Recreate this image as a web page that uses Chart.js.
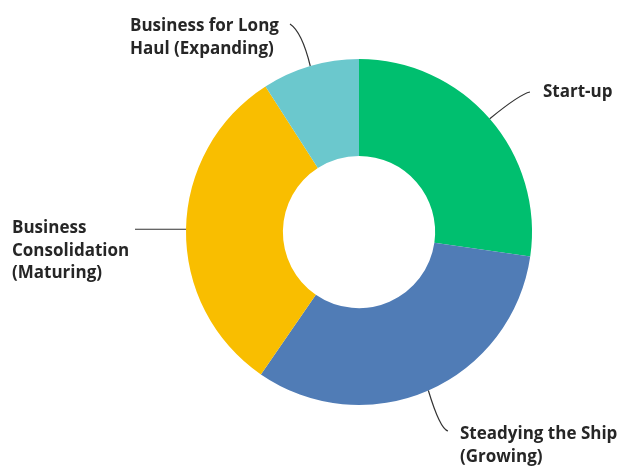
<!DOCTYPE html>
<html>
<head>
<meta charset="utf-8">
<script src="https://cdn.jsdelivr.net/npm/chart.js@4/dist/chart.umd.min.js"></script>
<style>
  html, body { margin: 0; padding: 0; background: #fff; }
  #wrap { width: 625px; height: 468px; position: relative; }
</style>
</head>
<body>
<div id="wrap"><canvas id="stageChart" width="625" height="468"></canvas></div>
<script>
// Business stage shares
const stages = [
    'Start-up',
    'Steadying the Ship (Growing)',
    'Business Consolidation (Maturing)',
    'Business for Long Haul (Expanding)'
];
const shares = [27, 32, 31, 9];
const stageColors = ['#00bf6f', '#507cb6', '#f9be00', '#6bc8cd'];

// Wrapped label lines, one entry per stage
const labelLines = [
    ['Start-up'],
    ['Steadying the Ship', '(Growing)'],
    ['Business', 'Consolidation', '(Maturing)'],
    ['Business for Long', 'Haul (Expanding)']
];

// Where each label sits and how its leader bends (elbow, end) relative to the text
const labelLayout = [
    { x: 543, y: 97, elbow: [-23, -3], end: [-13, -5] },
    { x: 460, y: 439, elbow: [-20, -10], end: [-12, -8] },
    { x: 12, y: 233, elbow: null, end: [123, -6] },
    { x: 130, y: 31, elbow: [172, 1], end: [160, -7] }
];

const TEXT_FONT = '700 17px "Open Sans", sans-serif';
const LINE_GAP = 22.5;

const leaderLabels = {
    id: 'leaderLabels',
    afterDatasetsDraw(chart) {
        const ctx = chart.ctx;
        const arcs = chart.getDatasetMeta(0).data;
        ctx.save();
        ctx.font = TEXT_FONT;
        ctx.fillStyle = '#262626';
        ctx.strokeStyle = '#333';
        ctx.lineWidth = 1.2;
        ctx.textBaseline = 'alphabetic';
        ctx.textAlign = 'left';
        arcs.forEach((arc, i) => {
            const lay = labelLayout[i];
            const mid = (arc.startAngle + arc.endAngle) / 2;
            const sx = arc.x + Math.cos(mid) * arc.outerRadius;
            const sy = arc.y + Math.sin(mid) * arc.outerRadius;
            const ex = lay.x + lay.end[0];
            const ey = lay.y + lay.end[1];
            ctx.beginPath();
            ctx.moveTo(sx, sy);
            if (lay.elbow) {
                ctx.quadraticCurveTo(lay.x + lay.elbow[0], lay.y + lay.elbow[1], ex, ey);
            } else {
                ctx.lineTo(ex, sy);
            }
            ctx.stroke();
            labelLines[i].forEach((line, j) => {
                ctx.fillText(line, lay.x, lay.y + j * LINE_GAP);
            });
        });
        ctx.restore();
    }
};

new Chart(document.getElementById('stageChart').getContext('2d'), {
    type: 'doughnut',
    data: {
        labels: stages,
        datasets: [{
            data: shares,
            backgroundColor: stageColors,
            borderWidth: 0,
            hoverOffset: 0
        }]
    },
    options: {
        responsive: false,
        animation: false,
        cutout: '44%',
        rotation: 0,
        layout: {
            padding: { left: 150, right: 57, top: 59, bottom: 63 }
        },
        plugins: {
            legend: { display: false },
            tooltip: { enabled: false }
        }
    },
    plugins: [leaderLabels]
});
</script>
</body>
</html>
